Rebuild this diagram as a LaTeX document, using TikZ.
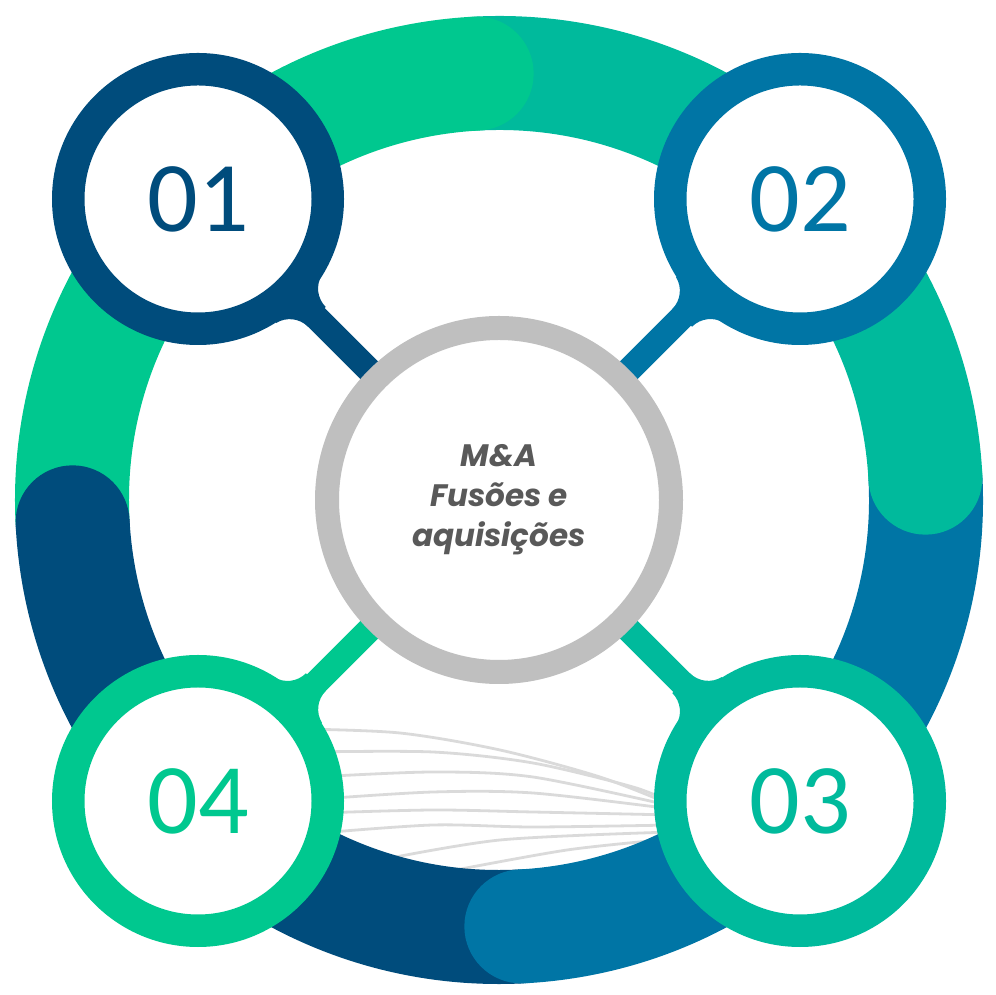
\documentclass[tikz,border=0pt]{standalone}
\usepackage{fontspec}
\newfontfamily\numfont{Carlito}
\newfontfamily\ctrfont{Poppins}
\definecolor{cgreen}{RGB}{0,200,143}
\definecolor{cteal}{RGB}{0,186,156}
\definecolor{cblue}{RGB}{0,117,165}
\definecolor{cdark}{RGB}{0,76,124}
\definecolor{cgray}{RGB}{191,191,191}
\definecolor{ctext}{RGB}{89,89,89}
\definecolor{cline}{RGB}{218,218,218}
\pgfdeclarelayer{bg}
\pgfdeclarelayer{mid}
\pgfsetlayers{bg,mid,main}
\newcommand\drawneck[3]{%
  \fill[#3, shift={(#1.center)}, rotate=#2] (0,0) -- (141.3,33.9)
    arc[start angle=193.5, end angle=270, radius=26] -- (168.2,-12.5)
    arc[start angle=90, end angle=166.5, radius=26] -- cycle;}
\begin{document}
\begin{tikzpicture}[x=1pt,y=1pt,
  numcirc/.style={circle, draw=#1, line width=32.5pt, fill=white, minimum size=259.5pt,
    inner sep=0pt, text=#1, font=\numfont\fontsize{100}{100}\selectfont},
  hub/.style={circle, draw=cgray, line width=24pt, fill=white, minimum size=344pt,
    inner sep=0pt, text=ctext, align=center,
    font=\ctrfont\bfseries\itshape\fontsize{31}{40}\selectfont},
  ringseg/.style={line width=114pt, draw=#1},
  ringcap/.style={fill=#1},
  spoke/.style={line width=25pt, draw=#1},
  fan/.style={draw=cline, line width=2.8pt}]
\useasboundingbox (0,0) rectangle (995,995);
\coordinate (O) at (499,495);

% nodes
\node[hub] (c0) at (O) {M\&A\\Fusões e\\aquisições};
\node[numcirc=cdark]  (c1) at (198,796) {01};
\node[numcirc=cblue]  (c2) at (800,796) {02};
\node[numcirc=cteal]  (c3) at (800,194) {03};
\node[numcirc=cgreen] (c4) at (198,194) {04};

\begin{pgfonlayer}{bg}
  % faint fan of curves
  \draw[fan] plot[smooth] coordinates {(300,266) (400,262) (500,245) (600,218) (672,190)};
  \draw[fan] plot[smooth] coordinates {(310,243) (433,243) (533,232) (633,208) (672,192)};
  \draw[fan] plot[smooth] coordinates {(315,218) (433,223) (533,218) (672,189)};
  \draw[fan] plot[smooth] coordinates {(320,196) (433,203) (533,202) (672,186)};
  \draw[fan] plot[smooth] coordinates {(320,182) (433,185) (533,183) (672,180)};
  \draw[fan] plot[smooth] coordinates {(320,162) (433,170) (533,168) (672,170)};
  \draw[fan] plot[smooth] coordinates {(370,133) (500,155) (672,163)};
  \draw[fan] plot[smooth] coordinates {(440,122) (567,145) (672,156)};
  % big ring segments
  \draw[ringseg=cteal]  ([shift={(3:427)}]O)   arc[start angle=3,   end angle=93,  radius=427];
  \draw[ringseg=cgreen] ([shift={(93:427)}]O)  arc[start angle=93,  end angle=183, radius=427];
  \draw[ringseg=cdark]  ([shift={(183:427)}]O) arc[start angle=183, end angle=273, radius=427];
  \draw[ringseg=cblue]  ([shift={(273:427)}]O) arc[start angle=273, end angle=363, radius=427];
  % rounded heads
  \fill[ringcap=cgreen] ([shift={(93:427)}]O)  circle[radius=57];
  \fill[ringcap=cteal]  ([shift={(3:427)}]O)   circle[radius=57];
  \fill[ringcap=cblue]  ([shift={(273:427)}]O) circle[radius=57];
  \fill[ringcap=cdark]  ([shift={(183:427)}]O) circle[radius=57];
\end{pgfonlayer}

\begin{pgfonlayer}{mid}
  \draw[spoke=cdark]  (c1.center) -- (c0.center);
  \draw[spoke=cblue]  (c2.center) -- (c0.center);
  \draw[spoke=cteal]  (c3.center) -- (c0.center);
  \draw[spoke=cgreen] (c4.center) -- (c0.center);
  \drawneck{c1}{-45}{cdark}
  \drawneck{c2}{-135}{cblue}
  \drawneck{c3}{135}{cteal}
  \drawneck{c4}{45}{cgreen}
\end{pgfonlayer}
\end{tikzpicture}
\end{document}
